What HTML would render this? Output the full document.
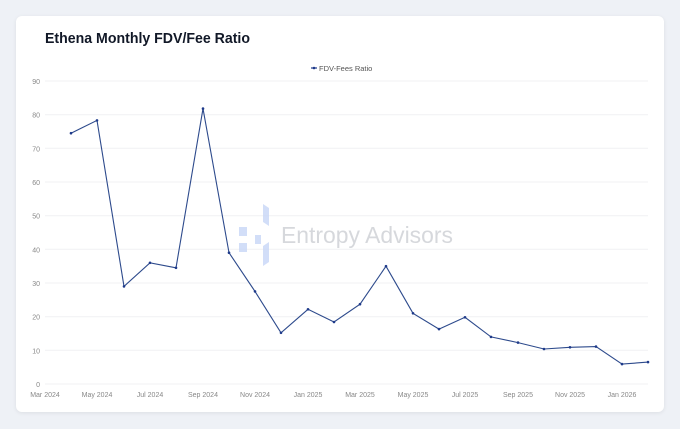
<!DOCTYPE html>
<html><head><meta charset="utf-8"><style>
html,body{margin:0;padding:0;width:680px;height:429px;overflow:hidden;background:#eef1f6;font-family:"Liberation Sans",sans-serif}
.card{position:absolute;left:16px;top:16px;width:648px;height:396px;background:#fff;border-radius:6px;box-shadow:0 1px 4px rgba(0,0,0,.08)}
</style></head><body>
<div class="card"></div>
<svg width="680" height="429" style="position:absolute;left:0;top:0" font-family="Liberation Sans, sans-serif">
<text x="45" y="43" font-size="15" font-weight="bold" fill="#111827" textLength="205" lengthAdjust="spacingAndGlyphs">Ethena Monthly FDV/Fee Ratio</text>
<line x1="311" y1="68" x2="317" y2="68" stroke="#1e3a8a" stroke-width="1.2"/><circle cx="314" cy="68" r="1.3" fill="#1e3a8a"/>
<text x="319" y="71" font-size="7.5" fill="#555">FDV-Fees Ratio</text>
<g stroke="#f0f1f3" stroke-width="1">
<line x1="45" x2="648" y1="81" y2="81"/><line x1="45" x2="648" y1="114.7" y2="114.7"/><line x1="45" x2="648" y1="148.3" y2="148.3"/><line x1="45" x2="648" y1="182" y2="182"/><line x1="45" x2="648" y1="215.7" y2="215.7"/><line x1="45" x2="648" y1="249.3" y2="249.3"/><line x1="45" x2="648" y1="283" y2="283"/><line x1="45" x2="648" y1="316.7" y2="316.7"/><line x1="45" x2="648" y1="350.3" y2="350.3"/><line x1="45" x2="648" y1="384" y2="384"/>
</g>
<g font-size="7" fill="#888" text-anchor="end">
<text x="40" y="84">90</text><text x="40" y="117.7">80</text><text x="40" y="151.3">70</text><text x="40" y="185">60</text><text x="40" y="218.7">50</text><text x="40" y="252.3">40</text><text x="40" y="286">30</text><text x="40" y="319.7">20</text><text x="40" y="353.3">10</text><text x="40" y="387">0</text>
</g>
<g font-size="7" fill="#888" text-anchor="middle">
<text x="45" y="397">Mar 2024</text><text x="97" y="397">May 2024</text><text x="150" y="397">Jul 2024</text><text x="203" y="397">Sep 2024</text><text x="255" y="397">Nov 2024</text><text x="308" y="397">Jan 2025</text><text x="360" y="397">Mar 2025</text><text x="413" y="397">May 2025</text><text x="465" y="397">Jul 2025</text><text x="518" y="397">Sep 2025</text><text x="570" y="397">Nov 2025</text><text x="622" y="397">Jan 2026</text>
</g>
<g fill="#c7d6f7" opacity=".8">
<rect x="239" y="227" width="8" height="9"/><rect x="239" y="243" width="8" height="9"/><rect x="255" y="235" width="6" height="9"/>
<polygon points="263,204 269,208 269,226 263,222"/><polygon points="263,246 269,242 269,262 263,266"/>
</g>
<text x="281" y="243" font-size="23" fill="#d6d8dc" textLength="172" lengthAdjust="spacingAndGlyphs">Entropy Advisors</text>
<polyline fill="none" stroke="#2d4a8c" stroke-width="1.1" points="71,133.2 97,120.4 124,286.4 150,262.8 176,267.8 203,108.6 229,252.7 255,291.4 281,332.8 308,309.3 334,322 360,304.2 386,266.2 413,313.3 439,329.1 465,317.3 491,336.9 518,342.6 544,349 570,347.3 596,346.6 622,364.1 648,362.1"/>
<g fill="#1e3a8a">
<circle cx="71" cy="133.2" r="1.3"/><circle cx="97" cy="120.4" r="1.3"/><circle cx="124" cy="286.4" r="1.3"/><circle cx="150" cy="262.8" r="1.3"/><circle cx="176" cy="267.8" r="1.3"/><circle cx="203" cy="108.6" r="1.3"/><circle cx="229" cy="252.7" r="1.3"/><circle cx="255" cy="291.4" r="1.3"/><circle cx="281" cy="332.8" r="1.3"/><circle cx="308" cy="309.3" r="1.3"/><circle cx="334" cy="322" r="1.3"/><circle cx="360" cy="304.2" r="1.3"/><circle cx="386" cy="266.2" r="1.3"/><circle cx="413" cy="313.3" r="1.3"/><circle cx="439" cy="329.1" r="1.3"/><circle cx="465" cy="317.3" r="1.3"/><circle cx="491" cy="336.9" r="1.3"/><circle cx="518" cy="342.6" r="1.3"/><circle cx="544" cy="349" r="1.3"/><circle cx="570" cy="347.3" r="1.3"/><circle cx="596" cy="346.6" r="1.3"/><circle cx="622" cy="364.1" r="1.3"/><circle cx="648" cy="362.1" r="1.3"/>
</g>
</svg>
</body></html>
